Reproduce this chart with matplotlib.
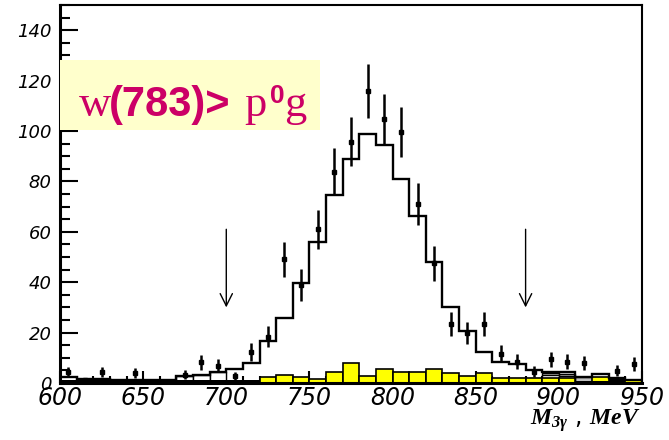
import numpy as np
import matplotlib
matplotlib.use('Agg')
import matplotlib.pyplot as plt
from matplotlib.ticker import MultipleLocator

plt.rcParams['mathtext.fontset'] = 'custom'
plt.rcParams['mathtext.bf'] = 'Liberation Serif:bold:italic'
plt.rcParams['mathtext.it'] = 'Liberation Serif:bold:italic'
plt.rcParams['mathtext.rm'] = 'Liberation Serif:bold:italic'

# bins of M(3 gamma), MeV
edges = np.arange(600, 951, 10)

# full simulation (outline)
mc_total = [2.5, 1.5, 1.5, 1.2, 1.2, 1.2, 1.2, 2.8, 3.2, 4.2,
            5.4, 8.0, 16.8, 25.7, 39.5, 56.0, 74.5, 88.9, 98.7, 94.4,
            81.0, 66.4, 47.9, 30.3, 20.6, 12.4, 8.5, 7.5, 5.3, 4.5,
            4.2, 2.5, 3.4, 1.9, 1.2]
# background components
bg_yellow = [0, 0, 0, 0, 0, 0, 0, 0, 0, 0,
             0, 0, 2.5, 3.2, 2.5, 1.5, 4.5, 7.8, 2.9, 5.4,
             4.2, 4.2, 5.4, 3.8, 2.8, 3.8, 2.1, 2.1, 2.1, 1.8,
             2.0, 0, 2.5, 0, 1.2]
bg_white = [0, 0, 0, 0, 0, 0, 0, 2.8, 3.2, 4.2,
            0, 0, 0, 0, 0, 0, 0, 0, 0, 0,
            0, 0, 0, 0, 0, 0, 0, 0, 0, 3.0,
            2.8, 0, 0, 0, 0]
bg_grey = [0, 0, 0, 0, 0, 0, 0, 0, 0, 0,
           0, 0, 0, 0, 0, 0, 0, 0, 0, 0,
           0, 0, 0, 0, 0, 0, 0, 0, 0, 4.0,
           3.6, 2.3, 0, 0, 0]
bg_black = [1.2, 1.2, 1.2, 1.2, 1.2, 1.2, 1.2, 1.2, 1.2, 1.2,
            1.2, 1.2, 0, 0, 0, 0, 0, 0, 0, 0,
            0, 0, 0, 0, 0, 0, 0, 0, 0, 0,
            0, 0.6, 0.6, 1.9, 0.5]

# experimental points
data_x = [605, 615, 625, 645, 675, 685, 695, 705, 715, 725, 735, 745, 755,
          765, 775, 785, 795, 805, 815, 825, 835, 845, 855, 865, 875, 885,
          895, 905, 915, 935, 945]
data_y = [4.3, 1.0, 4.3, 4.0, 3.3, 8.2, 6.8, 2.8, 12.4, 18.4, 49.1, 38.9, 61.0,
          83.9, 95.8, 115.9, 104.6, 99.7, 70.9, 47.5, 23.3, 19.7, 23.3, 11.7, 8.5, 4.5,
          9.4, 8.5, 7.8, 4.9, 7.5]
data_err = [2.1, 1.0, 2.1, 2.0, 1.8, 2.9, 2.6, 1.7, 3.5, 4.3, 7.0, 6.2, 7.8,
            9.2, 9.8, 10.8, 10.2, 10.0, 8.4, 6.9, 4.8, 4.4, 4.8, 3.4, 2.9, 2.1,
            3.1, 2.9, 2.8, 2.2, 2.7]

cut_x = [700, 880]

fig = plt.figure(figsize=(6.69, 4.40), dpi=100)
ax = fig.add_axes([60/669, 1-383/440, 582/669, 378/440])

w = np.diff(edges)
ax.bar(edges[:-1], bg_grey, width=w, align='edge', color='#c0c0c0',
       edgecolor='black', linewidth=1.0, zorder=2)
ax.bar(edges[:-1], bg_white, width=w, align='edge', color='white',
       edgecolor='black', linewidth=1.0, zorder=2.1)
ax.bar(edges[:-1], bg_yellow, width=w, align='edge', color='#ffff00',
       edgecolor='black', linewidth=1.2, zorder=2.2)
ax.bar(edges[:-1], bg_black, width=w, align='edge', color='black',
       linewidth=0, zorder=2.3)
ax.stairs(mc_total, edges, color='black', linewidth=1.7, zorder=3)

ax.errorbar(data_x, data_y, yerr=data_err, fmt='s', ms=3, color='black',
            elinewidth=1.8, capsize=0, zorder=4)

for cx in cut_x:
    ax.annotate('', xy=(cx, 30), xytext=(cx, 61),
                arrowprops=dict(arrowstyle='->', lw=1.0, color='black',
                                mutation_scale=22, shrinkA=0, shrinkB=0))

ax.set_xlim(600, 950)
ax.set_ylim(0, 150)
ax.xaxis.set_major_locator(MultipleLocator(50))
ax.xaxis.set_minor_locator(MultipleLocator(10))
ax.yaxis.set_major_locator(MultipleLocator(20))
ax.yaxis.set_minor_locator(MultipleLocator(5))
ax.tick_params(axis='both', which='both', direction='in', top=False, right=False)
ax.tick_params(axis='y', which='major', length=13, width=1.5, pad=6, labelsize=13)
ax.tick_params(axis='y', which='minor', length=7, width=1.5)
ax.tick_params(axis='x', which='major', length=9, width=1.5, pad=2, labelsize=17)
ax.tick_params(axis='x', which='minor', length=5, width=1.5)
for lab in ax.get_xticklabels() + ax.get_yticklabels():
    lab.set_fontstyle('italic')
for s in ax.spines.values():
    s.set_linewidth(1.5)
ax.spines['left'].set_linewidth(2.2)
ax.spines['bottom'].set_linewidth(2.2)

fig.text(641/669, 1-425/440, r'$\mathbf{M_{3\gamma}}$ , $\mathbf{MeV}$',
         ha='right', va='baseline', fontsize=17)

# label box
fig.patches.append(plt.Rectangle((60/669, 1-130/440), 260/669, 70/440,
                                 transform=fig.transFigure, facecolor='#ffffcc',
                                 edgecolor='none', zorder=5))
col = '#cc0066'
base = 1-116/440
fig.text(79/669, base, 'w', family='Liberation Serif', fontsize=32,
         color=col, va='baseline', zorder=6)
fig.text(109/669, base, '(783)>', family='Liberation Sans', weight='bold',
         fontsize=30, color=col, va='baseline', zorder=6)
fig.text(244/669, base, 'p', family='Liberation Serif', fontsize=32,
         color=col, va='baseline', zorder=6)
fig.text(270/669, 1-103/440, '0', family='Liberation Sans', weight='bold',
         fontsize=19, color=col, va='baseline', zorder=6)
fig.text(284/669, base, 'g', family='Liberation Serif', fontsize=32,
         color=col, va='baseline', zorder=6)

fig.savefig('out.png', dpi=100)
